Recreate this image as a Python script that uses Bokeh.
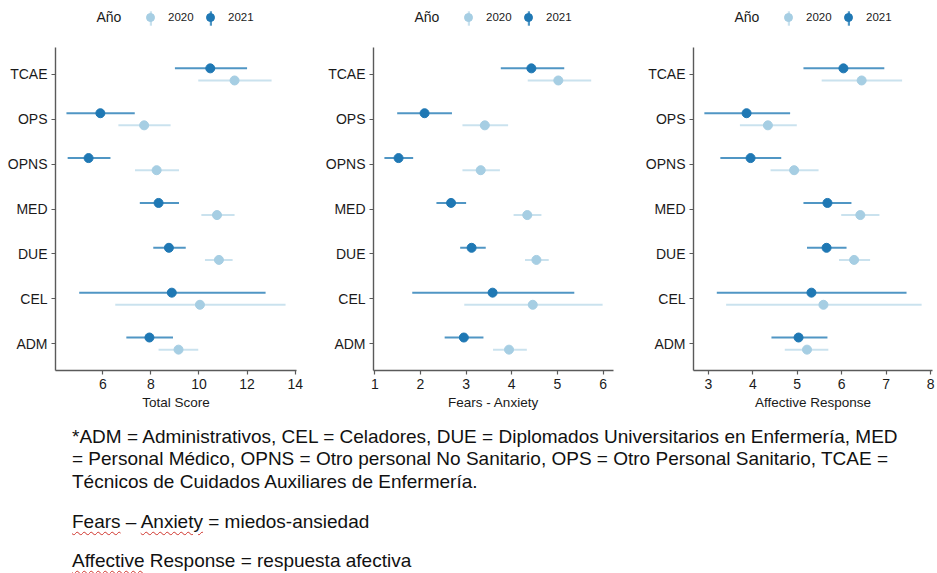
from bokeh.plotting import figure
from bokeh.models import (Range1d, FactorRange, ColumnDataSource, Legend, LegendItem,
                          FixedTicker, Div)
from bokeh.transform import dodge
from bokeh.layouts import row, column
from bokeh.embed import file_html
from bokeh.resources import INLINE

categories = ["ADM", "CEL", "DUE", "MED", "OPNS", "OPS", "TCAE"]
years = ["2020", "2021"]

# Total Score
total_2021_mean = [7.94, 8.87, 8.75, 8.32, 5.41, 5.90, 10.47]
total_2021_low = [6.98, 5.02, 8.10, 7.54, 4.54, 4.49, 9.00]
total_2021_high = [8.92, 12.77, 9.45, 9.17, 6.32, 7.33, 12.00]
total_2020_mean = [9.15, 10.04, 10.83, 10.75, 8.24, 7.72, 11.48]
total_2020_low = [8.32, 6.52, 10.25, 10.10, 7.34, 6.65, 9.97]
total_2020_high = [9.97, 13.60, 11.40, 11.48, 9.17, 8.82, 13.02]
total_ticks = [6, 8, 10, 12, 14]

# Fears - Anxiety
fears_2021_mean = [2.95, 3.58, 3.12, 2.67, 1.52, 2.09, 4.43]
fears_2021_low = [2.53, 1.82, 2.87, 2.35, 1.21, 1.49, 3.76]
fears_2021_high = [3.38, 5.37, 3.43, 3.00, 1.84, 2.69, 5.15]
fears_2020_mean = [3.94, 4.46, 4.54, 4.34, 3.32, 3.41, 5.02]
fears_2020_low = [3.59, 2.96, 4.29, 4.04, 2.92, 2.92, 4.35]
fears_2020_high = [4.33, 5.99, 4.81, 4.65, 3.74, 3.92, 5.74]
fears_ticks = [1, 2, 3, 4, 5, 6]

# Affective Response
affect_2021_mean = [5.03, 5.32, 5.66, 5.68, 3.95, 3.86, 6.04]
affect_2021_low = [4.42, 3.19, 5.22, 5.14, 3.27, 2.91, 5.14]
affect_2021_high = [5.68, 7.46, 6.11, 6.22, 4.64, 4.84, 6.96]
affect_2020_mean = [5.22, 5.59, 6.28, 6.42, 4.93, 4.34, 6.45]
affect_2020_low = [4.72, 3.40, 5.94, 5.99, 4.40, 3.71, 5.55]
affect_2020_high = [5.70, 7.80, 6.64, 6.85, 5.48, 4.99, 7.36]
affect_ticks = [3, 4, 5, 6, 7, 8]

COL = {"2020": "#a6cee3", "2021": "#1f78b4"}
LINE_ALPHA = {"2020": 0.6, "2021": 0.78}
OFFSET = {"2020": -0.135, "2021": 0.135}
FONT = "Liberation Sans"
TXT = "#1a1a1a"
AXC = "#5a5a5a"


def style_legend(lg, glyph_w, glyph_h, size, standoff, loc):
    lg.location = loc
    lg.orientation = "horizontal"
    lg.glyph_width = glyph_w
    lg.glyph_height = glyph_h
    lg.label_height = glyph_h
    lg.label_width = 0
    lg.label_standoff = standoff
    lg.label_text_font = FONT
    lg.label_text_font_size = size
    lg.label_text_color = TXT
    lg.label_text_baseline = "middle"
    lg.padding = 0
    lg.margin = 0
    lg.spacing = 0
    lg.border_line_color = None
    lg.background_fill_alpha = 0


def make_legend_fig(width, bl, br):
    lf = figure(width=width, height=40, x_range=Range1d(0, 1), y_range=Range1d(0, 1),
                output_backend="svg", toolbar_location=None,
                x_axis_type=None, y_axis_type=None,
                min_border_left=bl, min_border_right=br,
                min_border_top=0, min_border_bottom=0)
    lf.outline_line_color = None
    blank = lf.scatter(x=[-5], y=[-5], size=0, fill_alpha=0, line_alpha=0)
    lg = Legend(items=[LegendItem(label="Año", renderers=[blank])])
    style_legend(lg, 0, 20, "14px", 0, (41.5, 13))
    lf.add_layout(lg)
    for yr, cx in (("2020", 95), ("2021", 155)):
        bar = lf.vbar(x=[-5], bottom=[-5], top=[-4], width=0.1, fill_color=COL[yr],
                      fill_alpha=LINE_ALPHA[yr], line_color=None)
        lb = Legend(items=[LegendItem(label=" ", renderers=[bar])])
        style_legend(lb, 3, 18, "1px", 0, (cx - 1.5, 13))
        lf.add_layout(lb)
    for yr, cx in (("2020", 95), ("2021", 155)):
        dot = lf.scatter(x=[-5], y=[-5], size=8, fill_color=COL[yr], line_color=COL[yr])
        ld = Legend(items=[LegendItem(label=yr, renderers=[dot])])
        style_legend(ld, 20, 20, "11.5px", 8, (cx - 10, 13))
        lf.add_layout(ld)
    return lf


def make_panel(label, data, ticks, width, bl, br):
    lo = min(min(data[y][1]) for y in years)
    hi = max(max(data[y][2]) for y in years)
    pad = (hi - lo) * 0.05
    p = figure(width=width, height=380,
               x_range=Range1d(lo - pad, hi + pad),
               y_range=FactorRange(factors=categories, range_padding=0.1,
                                   range_padding_units="absolute"),
               output_backend="svg", toolbar_location=None,
               min_border_left=bl, min_border_right=br,
               min_border_top=7, min_border_bottom=50)
    for yr in years:
        mean, low, high = data[yr]
        src = ColumnDataSource(dict(cat=categories, mean=mean, low=low, high=high))
        yy = dodge("cat", OFFSET[yr], range=p.y_range)
        p.segment(x0="low", x1="high", y0=yy, y1=yy, source=src,
                  line_color=COL[yr], line_width=2, line_alpha=LINE_ALPHA[yr])
        p.scatter(x="mean", y=yy, source=src, size=9, marker="circle",
                  fill_color=COL[yr], line_color=COL[yr])

    p.xaxis.ticker = FixedTicker(ticks=ticks)
    p.xaxis.axis_label = label
    p.xaxis.axis_label_text_font = FONT
    p.xaxis.axis_label_text_font_size = "13.5px"
    p.xaxis.axis_label_text_font_style = "normal"
    p.xaxis.axis_label_text_color = TXT
    p.xaxis.axis_label_standoff = 3
    for ax in (p.xaxis[0], p.yaxis[0]):
        ax.major_label_text_font = FONT
        ax.major_label_text_font_size = "14px"
        ax.major_label_text_color = TXT
        ax.axis_line_color = AXC
        ax.axis_line_width = 1.4
        ax.major_tick_line_color = AXC
        ax.major_tick_line_width = 1.2
        ax.major_tick_out = 4
        ax.major_tick_in = 0
        ax.minor_tick_line_color = None
    p.xaxis.major_label_standoff = 4
    p.yaxis.major_label_standoff = 4
    p.grid.grid_line_color = None
    p.outline_line_color = None
    return p


specs = [
    ("Total Score", {"2020": (total_2020_mean, total_2020_low, total_2020_high),
                     "2021": (total_2021_mean, total_2021_low, total_2021_high)},
     total_ticks, 310, 55, 14),
    ("Fears - Anxiety", {"2020": (fears_2020_mean, fears_2020_low, fears_2020_high),
                         "2021": (fears_2021_mean, fears_2021_low, fears_2021_high)},
     fears_ticks, 310, 63, 7),
    ("Affective Response", {"2020": (affect_2020_mean, affect_2020_low, affect_2020_high),
                            "2021": (affect_2021_mean, affect_2021_low, affect_2021_high)},
     affect_ticks, 317, 73, 5),
]

legend_figs = [make_legend_fig(w, bl, br) for (_, _, _, w, bl, br) in specs]
panels = [make_panel(lbl, d, t, w, bl, br) for (lbl, d, t, w, bl, br) in specs]

wavy = ("text-decoration:underline wavy #d0342c;text-decoration-thickness:1px;"
        "text-underline-offset:3px;")
note_html = (
    f"<div style=\"font-family:'{FONT}',Arial,sans-serif;font-size:19px;color:#111;"
    "line-height:22.5px;padding-left:72px;padding-top:5.5px;white-space:nowrap;\">"
    "<div>*ADM = Administrativos, CEL = Celadores, DUE = Diplomados Universitarios en Enfermería, MED</div>"
    "<div>= Personal Médico, OPNS = Otro personal No Sanitario, OPS = Otro Personal Sanitario, TCAE =</div>"
    "<div>Técnicos de Cuidados Auxiliares de Enfermería.</div>"
    f"<div style=\"margin-top:17.5px\"><span style=\"{wavy}\">Fears</span> – "
    f"<span style=\"{wavy}\">Anxiety</span> = miedos-ansiedad</div>"
    f"<div style=\"margin-top:16.5px\"><span style=\"{wavy}\">Affective</span> Response = respuesta afectiva</div>"
    "</div>"
)
note = Div(text=note_html, width=937, height=152, margin=(0, 0, 0, 0))

layout = column(row(*legend_figs), row(*panels), note)
open("out.html", "w").write(file_html(layout, INLINE))
